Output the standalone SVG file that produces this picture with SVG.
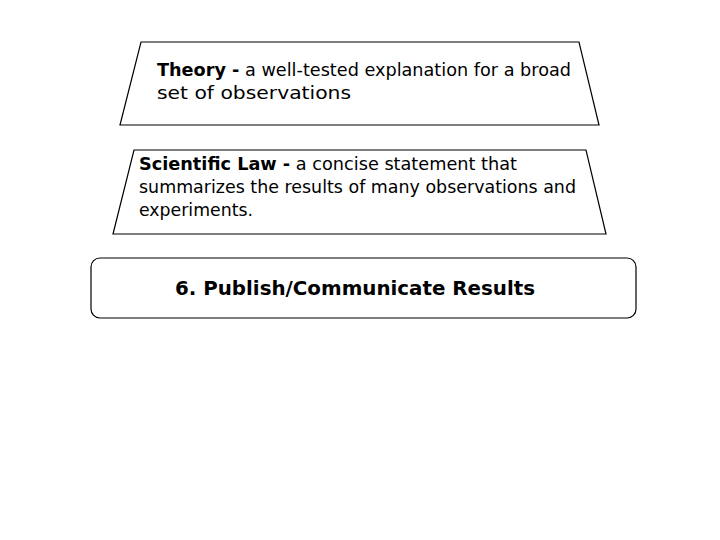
<svg xmlns="http://www.w3.org/2000/svg" width="720" height="540" viewBox="0 0 720 540">
<style>
.shape{fill:#fff;stroke:#000;stroke-width:1.2}
.t{font-family:"DejaVu Sans","Liberation Sans",sans-serif;font-size:18px;fill:#000}
.b{font-weight:bold}
.h{font-family:"DejaVu Sans","Liberation Sans",sans-serif;font-size:19.5px;font-weight:bold;fill:#000}
</style>
<rect width="720" height="540" fill="#fff"/>
<g id="theory">
<polygon class="shape" points="141,42 579,42 599,125 120,125"/>
<text class="t" x="157" y="76" textLength="414" lengthAdjust="spacingAndGlyphs"><tspan class="b">Theory -</tspan> a well-tested explanation for a broad</text>
<text class="t" x="157" y="99" textLength="194" lengthAdjust="spacingAndGlyphs">set of observations</text>
</g>
<g id="law">
<polygon class="shape" points="134,150 586,150 606,234 113,234"/>
<text class="t" x="139" y="170" textLength="378" lengthAdjust="spacingAndGlyphs"><tspan class="b">Scientific Law -</tspan> a concise statement that</text>
<text class="t" x="139" y="193" textLength="437" lengthAdjust="spacingAndGlyphs">summarizes the results of many observations and</text>
<text class="t" x="139" y="216" textLength="114" lengthAdjust="spacingAndGlyphs">experiments.</text>
</g>
<g id="publish">
<rect class="shape" x="91" y="258" width="545" height="60" rx="9" ry="9"/>
<text class="h" x="175" y="295" textLength="360" lengthAdjust="spacingAndGlyphs">6. Publish/Communicate Results</text>
</g>
<g id="connectors"/>
</svg>
